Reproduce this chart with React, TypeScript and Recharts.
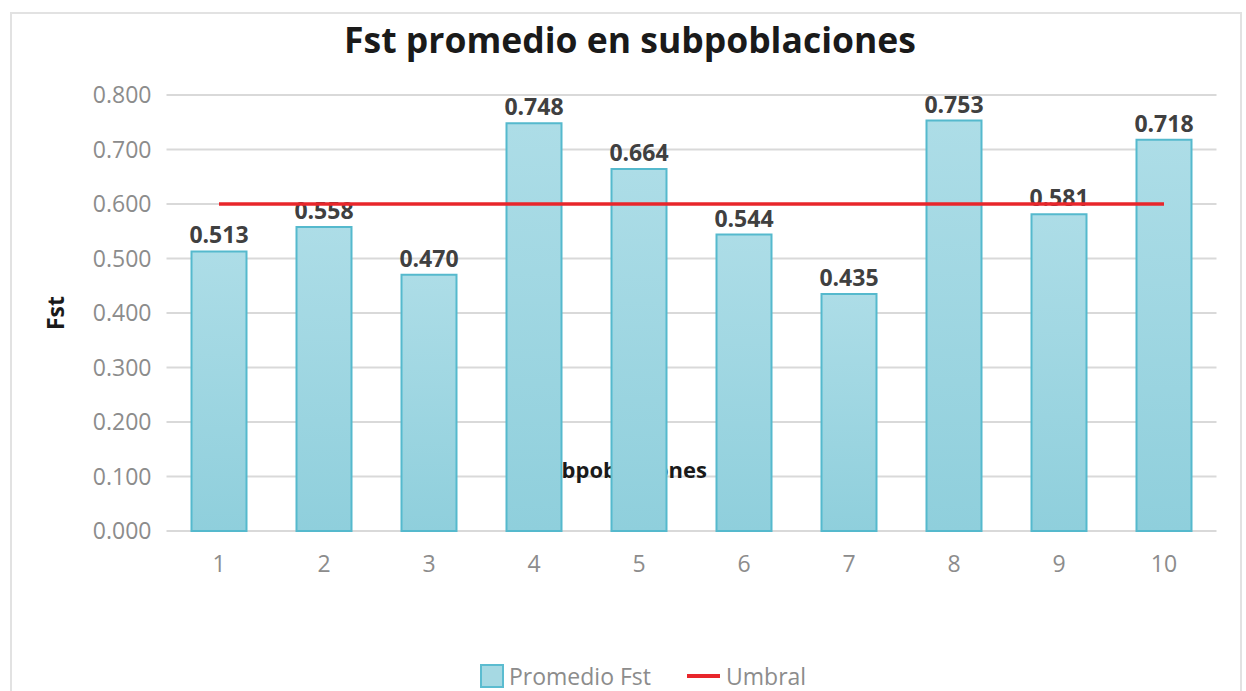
import { BarChart, Bar, Line, XAxis, YAxis, CartesianGrid, Legend, LabelList } from 'recharts';

const categories = ['1', '2', '3', '4', '5', '6', '7', '8', '9', '10'];
const promedioFst = [0.513, 0.558, 0.47, 0.748, 0.664, 0.544, 0.435, 0.753, 0.581, 0.718];
const umbral = [0.6, 0.6, 0.6, 0.6, 0.6, 0.6, 0.6, 0.6, 0.6, 0.6];
const yTicks = [0, 0.1, 0.2, 0.3, 0.4, 0.5, 0.6, 0.7, 0.8];

const data = categories.map((c, i) => ({ sub: c, fst: promedioFst[i], umbral: umbral[i] }));

const FONT = "'Open Sans', sans-serif";
const GREY = '#8c8c8c';

function renderLegend(props: any) {
  const payload = props.payload || [];
  return (
    <div style={{ display: 'flex', alignItems: 'center', fontFamily: FONT, fontSize: 23, lineHeight: '24px', color: GREY }}>
      {payload.map((p: any, i: number) => (
        <div key={i} style={{ display: 'flex', alignItems: 'center', marginRight: i === 0 ? 36 : 0 }}>
          {p.dataKey === 'fst' ? (
            <span style={{ width: 20, height: 20, background: '#a6d9e3', border: '2px solid #5bbcd0', marginRight: 5 }} />
          ) : (
            <span style={{ width: 33, height: 4, background: '#e8262b', marginRight: 6 }} />
          )}
          <span>{p.value}</span>
        </div>
      ))}
    </div>
  );
}

export default function App() {
  return (
    <div style={{ position: 'absolute', left: 0, top: 0, width: 1246, height: 691, background: '#fff', overflow: 'hidden' }}>
      <div
        style={{
          position: 'absolute', left: 10, top: 12, width: 1232, height: 700,
          border: '2px solid #e2e2e2', boxSizing: 'border-box',
        }}
      />
      <div
        style={{
          position: 'absolute', left: 0, top: 15, width: 1260, textAlign: 'center',
          fontFamily: FONT, fontWeight: 700, fontSize: 35.5, color: '#1a1a1a', lineHeight: 'normal',
        }}
      >
        Fst promedio en subpoblaciones
      </div>
      <div style={{ position: 'absolute', left: 0, top: 0 }}>
        <BarChart
          width={1246}
          height={691}
          data={data}
          margin={{ top: 95, right: 29.5, left: 40, bottom: 120 }}
          barSize={55}
        >
          <defs>
            <linearGradient id="fstFill" x1="0" y1="0" x2="0" y2="1">
              <stop offset="0%" stopColor="#addde7" />
              <stop offset="100%" stopColor="#8fcfdc" />
            </linearGradient>
          </defs>
          <CartesianGrid vertical={false} stroke="#d9d9d9" strokeWidth={2} />
          <XAxis
            dataKey="sub"
            height={40}
            axisLine={false}
            tickLine={false}
            tickSize={0}
            tickMargin={25}
            tick={{ fontSize: 23, fill: GREY, fontFamily: FONT }}
          />
          <YAxis
            width={126.5}
            domain={[0, 0.8]}
            ticks={yTicks}
            axisLine={false}
            tickLine={false}
            tickSize={0}
            tickMargin={15}
            tickFormatter={(v: number) => v.toFixed(3)}
            tick={{ fontSize: 23, fill: GREY, fontFamily: FONT }}
            label={{
              content: (p: any) => {
                const vb = p.viewBox || {};
                const cx = 55;
                const cy = vb.y + vb.height / 2;
                return (
                  <text
                    x={cx}
                    y={cy}
                    transform={`rotate(-90 ${cx} ${cy})`}
                    textAnchor="middle"
                    dominantBaseline="central"
                    fontFamily={FONT}
                    fontWeight={700}
                    fontSize={23}
                    fill="#1a1a1a"
                  >
                    Fst
                  </text>
                );
              },
            }}
          />
          <text x={621} y={478} textAnchor="middle" fontFamily={FONT} fontWeight={700} fontSize={22} fill="#1a1a1a">
            Subpoblaciones
          </text>
          <Legend
            layout="horizontal"
            verticalAlign="middle"
            align="center"
            wrapperStyle={{ top: 664, left: 480, width: 400 }}
            content={renderLegend}
          />
          <Bar dataKey="fst" name="Promedio Fst" fill="url(#fstFill)" stroke="#55b9cd" strokeWidth={2} isAnimationActive={false}>
            <LabelList
              dataKey="fst"
              position="top"
              offset={8}
              formatter={(v: any) => Number(v).toFixed(3)}
              style={{ fontFamily: FONT, fontWeight: 700, fontSize: 23, fill: '#404040' }}
            />
          </Bar>
          <Line
            dataKey="umbral"
            name="Umbral"
            type="linear"
            stroke="#e8262b"
            strokeWidth={3.5}
            dot={false}
            activeDot={false}
            isAnimationActive={false}
            zIndex={2500}
          />
        </BarChart>
      </div>
    </div>
  );
}
